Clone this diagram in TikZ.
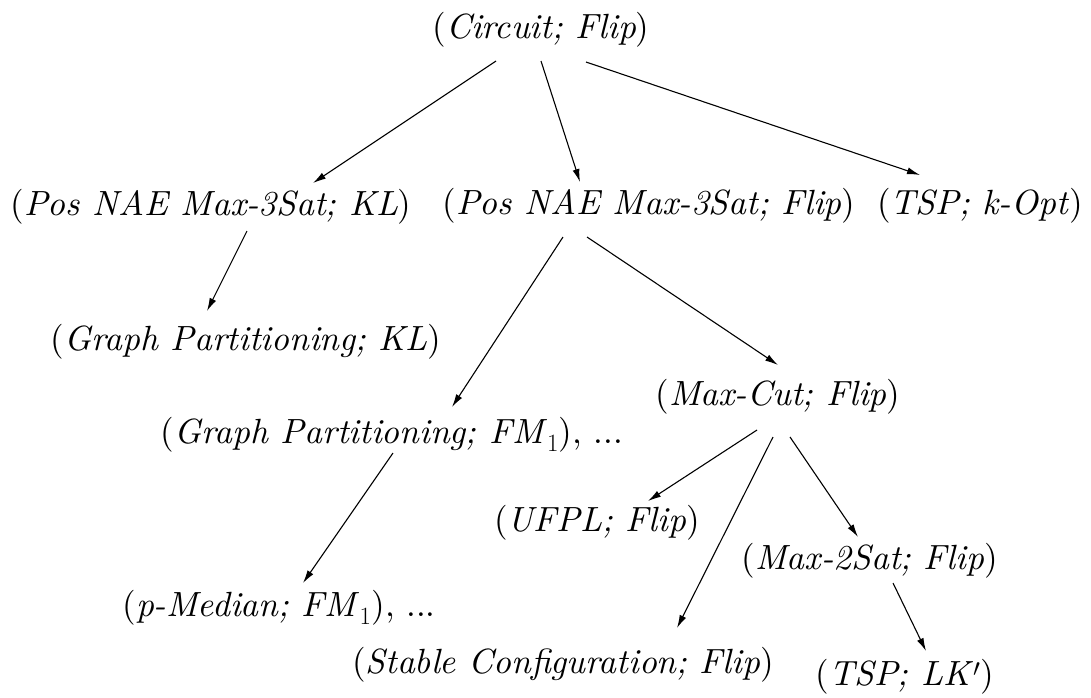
\documentclass[tikz,border=0pt]{standalone}
\usepackage{fontspec}
\setmainfont{lmroman10-regular}[Extension=.otf, ItalicFont=lmroman10-italic, BoldFont=lmroman10-bold]
\usetikzlibrary{arrows.meta}
\tikzset{
  lbl/.style={inner sep=0pt, font=\fontsize{35}{42}\selectfont},
  conn/.style={line width=1.1pt, -{Latex[length=13pt,width=7pt]}}
}
\begin{document}
\begin{tikzpicture}[x=1pt,y=-1pt]
\useasboundingbox (0,0) rectangle (1091,697);
\node[lbl] (circ)    at (541,30)  {(\textit{Circuit; Flip})};
\node[lbl] (poskl)   at (211,207) {(\textit{Pos NAE Max-3Sat; KL})};
\node[lbl] (posflip) at (649,206) {(\textit{Pos NAE Max-3Sat; Flip})};
\node[lbl] (tspk)    at (980,206) {(\textit{TSP; k-Opt})};
\node[lbl] (gpkl)    at (246,342) {(\textit{Graph Partitioning; KL})};
\node[lbl] (gpfm)    at (392,435) {(\textit{Graph Partitioning; FM}$_1$), ...};
\node[lbl] (maxcut)  at (778,397) {(\textit{Max-Cut; Flip})};
\node[lbl] (ufpl)    at (597,523) {(\textit{UFPL; Flip})};
\node[lbl] (maxtwo)  at (870,561) {(\textit{Max-2Sat; Flip})};
\node[lbl] (pmed)    at (279,608) {(\textit{p-Median; FM}$_1$), ...};
\node[lbl] (stable)  at (563,665) {(\textit{Stable Configuration; Flip})};
\node[lbl] (tsplk)   at (905,677) {(\textit{TSP; LK}$'$)};

\draw[conn] ([shift={(-45,31)}]circ.center) -- ([shift={(102,-24)}]poskl.center);
\draw[conn] ([shift={(0,31)}]circ.center) -- ([shift={(-69,-24)}]posflip.center);
\draw[conn] ([shift={(45,32)}]circ.center) -- ([shift={(-60,-31)}]tspk.center);
\draw[conn] ([shift={(36,24)}]poskl.center) -- ([shift={(-39,-31)}]gpkl.center);
\draw[conn] ([shift={(-86,31)}]posflip.center) -- ([shift={(60,-28)}]gpfm.center);
\draw[conn] ([shift={(-62,31)}]posflip.center) -- ([shift={(0,-32)}]maxcut.center);
\draw[conn] ([shift={(1,18)}]gpfm.center) -- ([shift={(24,-25)}]pmed.center);
\draw[conn] ([shift={(-21,33)}]maxcut.center) -- ([shift={(51,-22)}]ufpl.center);
\draw[conn] ([shift={(-5,40)}]maxcut.center) -- ([shift={(114,-37)}]stable.center);
\draw[conn] ([shift={(12,40)}]maxcut.center) -- ([shift={(-12,-24)}]maxtwo.center);
\draw[conn] ([shift={(23,22)}]maxtwo.center) -- ([shift={(21,-26)}]tsplk.center);
\end{tikzpicture}
\end{document}
